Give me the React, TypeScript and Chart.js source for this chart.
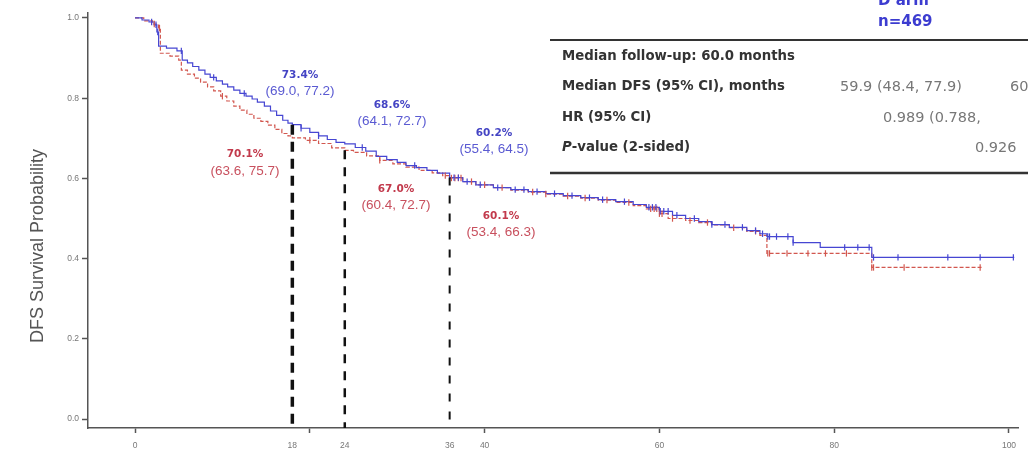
import React, { useEffect, useRef } from "react";
import { Chart, registerables } from "chart.js";

Chart.register(...registerables);

// ---- Data ----
const blueTimes = [0, 0.8, 1.6, 2.2, 2.5, 2.7, 3.6, 4.8, 5.4, 6.0, 6.6, 7.3, 8.0, 8.6, 9.3, 10.0, 10.6, 11.3, 12.0, 12.7, 13.4, 14.0, 14.8, 15.5, 16.2, 16.9, 17.5, 18.0, 19.0, 20.0, 21.0, 22.0, 23.0, 24.0, 25.2, 26.4, 27.6, 28.8, 30.0, 31.0, 32.2, 33.4, 34.6, 36.0, 37.5, 39, 41, 43, 45, 47, 49, 51, 53, 55, 57, 58.5, 60, 61.5, 63, 64.5, 66, 68, 70, 71.5, 72.3, 75.3, 78.4, 84.3, 100.6];
const blueSurv = [1.0, 0.995, 0.99, 0.983, 0.965, 0.93, 0.925, 0.918, 0.895, 0.888, 0.879, 0.87, 0.86, 0.852, 0.843, 0.835, 0.828, 0.82, 0.812, 0.805, 0.798, 0.79, 0.78, 0.768, 0.757, 0.745, 0.738, 0.734, 0.725, 0.715, 0.706, 0.697, 0.69, 0.686, 0.677, 0.668, 0.655, 0.647, 0.64, 0.632, 0.627, 0.62, 0.613, 0.602, 0.592, 0.584, 0.577, 0.572, 0.567, 0.562, 0.557, 0.552, 0.547, 0.542, 0.535, 0.528, 0.518, 0.508, 0.5, 0.492, 0.485, 0.478, 0.47, 0.462, 0.455, 0.44, 0.428, 0.403, 0.403];

const redTimes = [0, 1.0, 2.0, 2.7, 2.9, 4.0, 5.0, 5.3, 6.0, 6.8, 7.5, 8.3, 9.0, 9.8, 10.5, 11.3, 12.0, 12.8, 13.6, 14.4, 15.2, 16.0, 16.8, 17.5, 18.0, 19.5, 21, 22.5, 24, 25, 26.5, 28, 29.5, 31, 32.5, 34, 35.2, 36, 37.5, 39, 41, 43, 45, 47, 49, 51, 53, 55, 57, 58.5, 60, 61, 63, 64.5, 66, 68, 70, 71.5, 72.3, 84.3, 97];
const redSurv = [1.0, 0.993, 0.985, 0.975, 0.912, 0.905, 0.895, 0.87, 0.86, 0.85, 0.84, 0.828, 0.818, 0.805, 0.793, 0.78, 0.77, 0.76, 0.75, 0.742, 0.733, 0.722, 0.712, 0.706, 0.701, 0.695, 0.687, 0.676, 0.67, 0.665, 0.656, 0.645, 0.636, 0.628, 0.62, 0.614, 0.607, 0.601, 0.592, 0.584, 0.577, 0.571, 0.566, 0.561, 0.556, 0.551, 0.546, 0.54, 0.532, 0.524, 0.512, 0.5, 0.495, 0.49, 0.484, 0.477, 0.468, 0.458, 0.413, 0.378, 0.378];

const blueCensor = [1.9, 2.4, 2.6, 5.3, 9.0, 12.5, 19.0, 21.0, 26.0, 32.0, 36.5, 37.0, 38.0, 39.5, 41.5, 43.5, 44.5, 46, 48, 50, 52, 53.5, 56, 58.8, 59.2, 59.6, 60.1, 60.5, 61, 62, 64, 66, 67.5, 69.5, 71, 71.8, 72.4, 72.6, 73.4, 74.7, 75.3, 81.2, 82.7, 84, 84.5, 87.3, 93, 96.7, 100.5];
const redCensor = [2.2, 2.8, 10, 20, 28, 35.5, 36.2, 36.6, 37, 37.3, 38.5, 40, 42, 45.5, 47, 49.5, 51.5, 54, 56.5, 59, 59.4, 59.7, 60.0, 60.3, 61.5, 63.5, 65.5, 68.5, 71, 72.4, 72.6, 74.6, 77, 79, 81.4, 84.3, 84.5, 88, 96.7];

const landmarkMonths = [18, 24, 36];
const landmarkTop = [0.734, 0.67, 0.602];

const xTickValues = [0, 18, 20, 24, 36, 40, 60, 80, 100];
const xMajorTicks = [0, 20, 40, 60, 80, 100];
const xLabelValues = [0, 18, 24, 36, 40, 60, 80, 100];
const yTickValues = [0, 0.2, 0.4, 0.6, 0.8, 1.0];

const blueRates = ["73.4%", "68.6%", "60.2%"];
const blueCIs = ["(69.0, 77.2)", "(64.1, 72.7)", "(55.4, 64.5)"];
const redRates = ["70.1%", "67.0%", "60.1%"];
const redCIs = ["(63.6, 75.7)", "(60.4, 72.7)", "(53.4, 66.3)"];

const armName = "D arm";
const armN = "n=469";
const tableLabels = ["Median follow-up: 60.0 months", "Median DFS (95% CI), months", "HR (95% CI)", "-value (2-sided)"];
const tableValues = ["", "59.9 (48.4, 77.9)", "0.989 (0.788,", "0.926"];
const yTitle = "DFS Survival Probability";

// ---- Styles / layout ----
const BLUE = "#4646d2";
const RED = "#d2574f";
const X_MIN = -5.38;
const X_MAX = 101.03;
const Y_MIN = -0.0223;
const Y_MAX = 1.0124;

const blueLabelPos = [
  { cx: 300, y1: 75, y2: 91 },
  { cx: 392, y1: 105, y2: 121 },
  { cx: 494, y1: 133, y2: 149 },
];
const redLabelPos = [
  { cx: 245, y1: 154, y2: 171 },
  { cx: 396, y1: 189, y2: 205 },
  { cx: 501, y1: 216, y2: 232 },
];

function survAt(times: number[], surv: number[], t: number): number {
  let v = surv[0];
  for (let i = 0; i < times.length; i++) {
    if (times[i] <= t) v = surv[i];
    else break;
  }
  return v;
}

const textPlugin = {
  id: "textPlugin",
  afterDraw(chart: any) {
    const ctx = chart.ctx as CanvasRenderingContext2D;
    ctx.save();
    // y-axis title
    ctx.save();
    ctx.translate(38, 246);
    ctx.rotate(-Math.PI / 2);
    ctx.font = "18px 'Liberation Sans', Arial, sans-serif";
    ctx.fillStyle = "#555";
    ctx.textAlign = "center";
    ctx.textBaseline = "middle";
    ctx.fillText(yTitle, 0, 0);
    ctx.restore();

    // landmark annotations
    ctx.textAlign = "center";
    ctx.textBaseline = "middle";
    for (let i = 0; i < 3; i++) {
      const b = blueLabelPos[i];
      ctx.font = "bold 10.5px 'DejaVu Sans', sans-serif";
      ctx.fillStyle = "#4444c4";
      ctx.fillText(blueRates[i], b.cx, b.y1);
      ctx.font = "13.5px 'Liberation Sans', Arial, sans-serif";
      ctx.fillStyle = "#5a5ad2";
      ctx.fillText(blueCIs[i], b.cx, b.y2);
      const r = redLabelPos[i];
      ctx.font = "bold 10.5px 'DejaVu Sans', sans-serif";
      ctx.fillStyle = "#c23a4c";
      ctx.fillText(redRates[i], r.cx, r.y1);
      ctx.font = "13.5px 'Liberation Sans', Arial, sans-serif";
      ctx.fillStyle = "#c8505e";
      ctx.fillText(redCIs[i], r.cx, r.y2);
    }

    // header
    ctx.textAlign = "left";
    ctx.fillStyle = "#3c3cd0";
    ctx.font = "bold 15px 'DejaVu Sans', sans-serif";
    ctx.textBaseline = "alphabetic";
    ctx.fillText(armName, 878, 5);
    ctx.textBaseline = "middle";
    ctx.fillText(armN, 878, 22);

    // table rules
    ctx.strokeStyle = "#333";
    ctx.lineWidth = 1.8;
    ctx.beginPath();
    ctx.moveTo(550, 40);
    ctx.lineTo(1028, 40);
    ctx.stroke();
    ctx.lineWidth = 2.4;
    ctx.beginPath();
    ctx.moveTo(550, 173);
    ctx.lineTo(1028, 173);
    ctx.stroke();

    // table rows
    const rowY = [57, 87, 118, 148];
    ctx.fillStyle = "#333";
    for (let i = 0; i < tableLabels.length; i++) {
      let x = 562;
      if (i === 3) {
        ctx.font = "italic bold 13.3px 'DejaVu Sans', sans-serif";
        ctx.fillText("P", x, rowY[i]);
        x += ctx.measureText("P").width;
      }
      ctx.font = "bold 13.3px 'DejaVu Sans', sans-serif";
      ctx.fillText(tableLabels[i], x, rowY[i]);
    }
    ctx.font = "14.5px 'DejaVu Sans', sans-serif";
    ctx.fillStyle = "#777";
    ctx.fillText(tableValues[1], 840, rowY[1]);
    ctx.fillText("60", 1010, rowY[1]);
    ctx.fillText(tableValues[2], 883, rowY[2]);
    ctx.fillText(tableValues[3], 975, rowY[3]);
    ctx.restore();
  },
};

export default function App() {
  const canvasRef = useRef<HTMLCanvasElement | null>(null);

  useEffect(() => {
    if (!canvasRef.current) return;
    const landmarkSets = landmarkMonths.map((m, i) => ({
      type: "line" as const,
      data: [
        { x: m, y: landmarkTop[i] },
        { x: m, y: Y_MIN },
      ],
      borderColor: "#111",
      borderWidth: [3.5, 2.5, 2][i],
      borderDash: [[10, 7], [9, 8], [8, 10]][i],
      pointRadius: 0,
      fill: false,
    }));

    const chart = new Chart(canvasRef.current, {
      type: "line",
      data: {
        datasets: [
          ...landmarkSets,
          {
            type: "scatter",
            data: blueCensor.map((t) => ({ x: t, y: survAt(blueTimes, blueSurv, t) })),
            pointStyle: "line",
            rotation: 90,
            pointRadius: 3.2,
            borderWidth: 1.2,
            borderColor: BLUE,
            backgroundColor: BLUE,
            showLine: false,
          },
          {
            type: "scatter",
            data: redCensor.map((t) => ({ x: t, y: survAt(redTimes, redSurv, t) })),
            pointStyle: "line",
            rotation: 90,
            pointRadius: 3.2,
            borderWidth: 1.2,
            borderColor: RED,
            backgroundColor: RED,
            showLine: false,
          },
          {
            type: "line",
            data: blueTimes.map((t, i) => ({ x: t, y: blueSurv[i] })),
            stepped: "before",
            borderColor: BLUE,
            borderWidth: 1.2,
            pointRadius: 0,
            fill: false,
          },
          {
            type: "line",
            data: redTimes.map((t, i) => ({ x: t, y: redSurv[i] })),
            stepped: "before",
            borderColor: RED,
            borderWidth: 1.2,
            borderDash: [4, 2],
            pointRadius: 0,
            fill: false,
          },
        ] as any,
      },
      options: {
        responsive: false,
        animation: false,
        layout: { padding: { top: 13, right: 10, left: 0, bottom: 0 } },
        plugins: {
          legend: { display: false },
          tooltip: { enabled: false },
        },
        scales: {
          x: {
            type: "linear",
            min: X_MIN,
            max: X_MAX,
            afterFit: (s: any) => {
              s.height = 27;
            },
            afterBuildTicks: (s: any) => {
              s.ticks = xTickValues.map((v) => ({ value: v }));
            },
            ticks: {
              autoSkip: false,
              maxRotation: 0,
              minRotation: 0,
              padding: 8,
              color: "#777",
              font: { family: "'Liberation Sans', Arial, sans-serif", size: 8.5 },
              callback: (v: any) => (xLabelValues.includes(Number(v)) ? String(v) : ""),
            },
            grid: {
              display: true,
              drawOnChartArea: false,
              drawTicks: true,
              tickLength: 5,
              tickWidth: 1.5,
              tickColor: (c: any) =>
                c.tick && xMajorTicks.includes(c.tick.value) ? "#555" : "rgba(0,0,0,0)",
            },
            border: { display: true, color: "#555", width: 1.5 },
          },
          y: {
            type: "linear",
            min: Y_MIN,
            max: Y_MAX,
            afterFit: (s: any) => {
              s.width = 88;
            },
            afterBuildTicks: (s: any) => {
              s.ticks = yTickValues.map((v) => ({ value: v }));
            },
            ticks: {
              padding: 3,
              color: "#777",
              font: { family: "'Liberation Sans', Arial, sans-serif", size: 8.5 },
              callback: (v: any) => Number(v).toFixed(1),
            },
            grid: {
              display: true,
              drawOnChartArea: false,
              drawTicks: true,
              tickLength: 6,
              tickWidth: 1.5,
              tickColor: "#555",
            },
            border: { display: true, color: "#555", width: 1.5 },
          },
        },
      } as any,
      plugins: [textPlugin],
    });
    return () => chart.destroy();
  }, []);

  return (
    <div style={{ position: "absolute", left: 0, top: 0, width: 1028, height: 455, background: "#fff" }}>
      <canvas ref={canvasRef} width={1028} height={455} style={{ display: "block" }} />
    </div>
  );
}
